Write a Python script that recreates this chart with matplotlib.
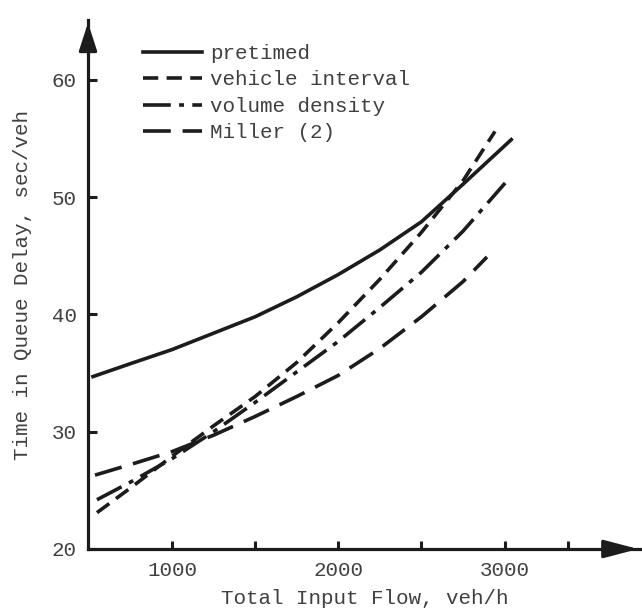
import matplotlib
matplotlib.use("Agg")
import matplotlib.pyplot as plt

# --- DADOS ---
x_pretimed = [525, 750, 1000, 1250, 1500, 1750, 2000, 2250, 2500, 2750, 3040]
y_pretimed = [34.7, 35.8, 37.0, 38.4, 39.8, 41.5, 43.4, 45.5, 47.9, 51.1, 54.9]

x_vehicle = [549, 750, 1000, 1250, 1500, 1750, 2000, 2250, 2500, 2750, 2942]
y_vehicle = [23.1, 25.2, 27.9, 30.5, 33.0, 35.9, 39.3, 43.0, 47.0, 51.4, 55.6]

x_volume = [549, 750, 1000, 1250, 1500, 1750, 2000, 2250, 2500, 2750, 3003]
y_volume = [24.2, 25.7, 27.7, 30.0, 32.5, 35.1, 37.7, 40.6, 43.6, 47.1, 51.2]

x_miller = [537, 750, 1000, 1250, 1500, 1750, 2000, 2250, 2500, 2750, 2894]
y_miller = [26.3, 27.2, 28.3, 29.7, 31.3, 33.0, 34.8, 37.1, 39.8, 42.8, 44.9]

x_ticks = [1000, 1500, 2000, 2500, 3000, 3380]
x_labels = ["1000", "", "2000", "", "3000", ""]
y_ticks = [20, 30, 40, 50, 60]
y_labels = ["20", "30", "40", "50", "60"]

plt.rcParams["font.family"] = ["Liberation Mono", "DejaVu Sans Mono"]
plt.rcParams["lines.scale_dashes"] = False

ink = "#1c1c1c"
txt = "#404040"
fs = 15

fig = plt.figure(figsize=(6.42, 6.08), dpi=100)
ax = fig.add_axes([88/642, 1 - 549/608, (641 - 88)/642, (549 - 20)/608])

lw = 2.6
ax.plot(x_pretimed, y_pretimed, color=ink, lw=lw, label="pretimed")
ax.plot(x_vehicle, y_vehicle, color=ink, lw=lw, dashes=(11, 6), label="vehicle interval")
ax.plot(x_volume, y_volume, color=ink, lw=lw, dashes=(20, 6, 3.5, 6), label="volume density")
ax.plot(x_miller, y_miller, color=ink, lw=lw, dashes=(20, 8.5), label="Miller (2)")

ax.set_xlim(495, 3820)
ax.set_ylim(20, 65.1)

for s in ["top", "right"]:
    ax.spines[s].set_visible(False)
for s in ["left", "bottom"]:
    ax.spines[s].set_linewidth(2.3)
    ax.spines[s].set_color(ink)

ax.set_xticks(x_ticks)
ax.set_xticklabels(x_labels)
ax.set_yticks(y_ticks)
ax.set_yticklabels(y_labels)
ax.tick_params(axis="both", direction="in", width=2.2, color=ink,
               labelsize=fs, labelcolor=txt)
ax.tick_params(axis="x", length=6, pad=9)
ax.tick_params(axis="y", length=6.5, pad=8)

ax.set_xlabel("Total Input Flow, veh/h", fontsize=fs, color=txt, labelpad=6)
ax.set_ylabel("Time in Queue Delay, sec/veh", fontsize=fs, color=txt, labelpad=14)

# setas nos eixos
ax.annotate("", xy=(1, 0), xytext=(0.94, 0), xycoords="axes fraction",
            arrowprops=dict(arrowstyle="-|>,head_length=2.1,head_width=0.55",
                            color=ink, lw=2.3), annotation_clip=False)
ax.annotate("", xy=(0, 1), xytext=(0, 0.94), xycoords="axes fraction",
            arrowprops=dict(arrowstyle="-|>,head_length=1.7,head_width=0.55",
                            color=ink, lw=2.3), annotation_clip=False)

leg = ax.legend(loc="upper left", bbox_to_anchor=(0.1, 0.955), frameon=False,
                fontsize=fs, handlelength=2.8, handletextpad=0.4,
                labelspacing=0.36, borderpad=0, borderaxespad=0)
for t in leg.get_texts():
    t.set_color(txt)

plt.savefig("out.png", dpi=100)
plt.close()
